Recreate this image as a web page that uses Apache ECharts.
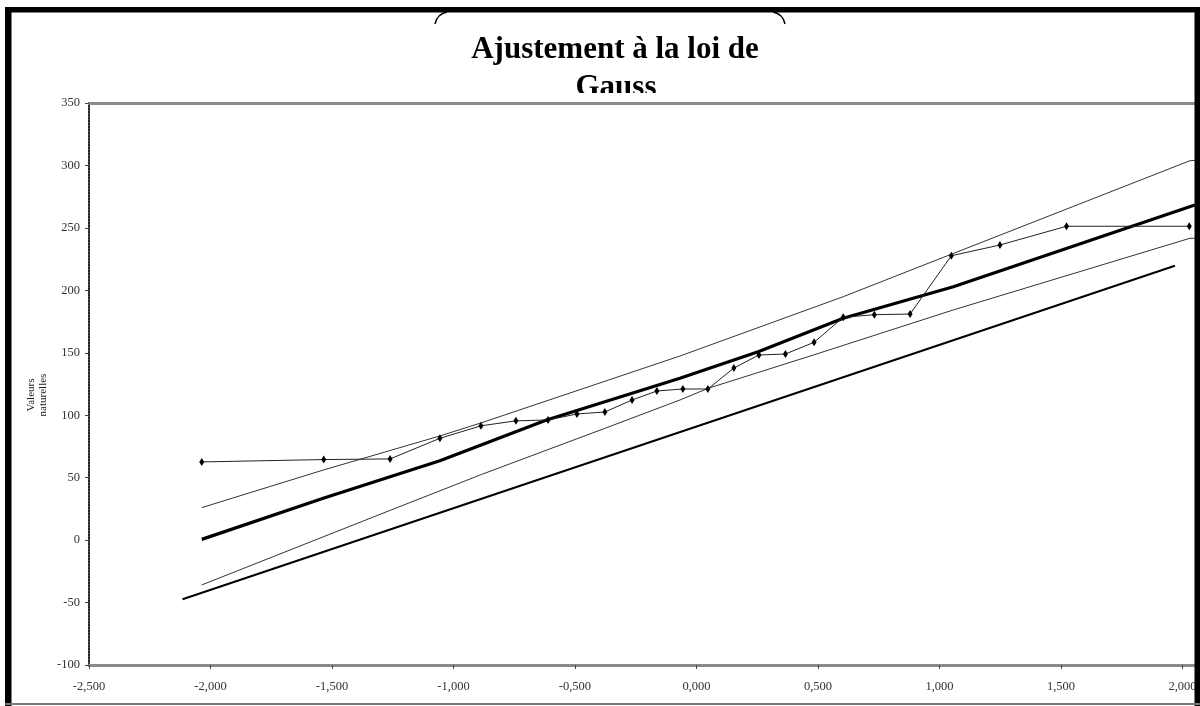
<!DOCTYPE html>
<html>
<head>
<meta charset="utf-8">
<script src="https://cdn.jsdelivr.net/npm/echarts@6/dist/echarts.min.js"></script>
<style>
html,body{margin:0;padding:0;background:#fff;}
#chart{width:1200px;height:706px;}
</style>
</head>
<body>
<div id="chart"></div>
<script>
// ---- data ----
const titleLines = ['Ajustement à la loi de', 'Gauss'];
const yAxisName = ['Valeurs', 'naturelles'];

// observed values (normal quantile, natural value)
const obsX = [-2.036,-1.534,-1.261,-1.056,-0.887,-0.743,-0.611,-0.492,-0.377,-0.265,-0.163,-0.056,0.047,0.154,0.257,0.366,0.484,0.604,0.732,0.879,1.049,1.249,1.523,2.028];
const obsY = [62.6,64.5,65,81.5,91.5,95.5,96.2,101,102.6,112.2,119.4,121,121,137.8,148.2,149,158.4,178.4,180.5,181,227.7,236.3,251.3,251.3];

// fitted Gauss line (thick)
const fitX = [-2.036,-1.536,-1.056,-0.617,-0.068,0.254,0.604,1.057,2.051];
const fitY = [0.6,33.5,63.5,96.2,129.6,150.9,177.6,202.9,268.3];

// upper confidence band
const upperX = [-2.036,-1.536,-1.056,-0.884,-0.068,0.604,1.050,2.031,2.051];
const upperY = [26,56.1,83.4,94,147.4,194.9,229,303.8,304];

// lower confidence band
const lowerX = [-2.036,-1.261,-0.884,-0.377,-0.068,0.049,0.481,1.057,2.031,2.051];
const lowerY = [-35.9,23.8,52.6,89.5,112.2,121.6,148.2,184.3,241.7,241.7];

// straight reference line
const refX = [-2.115, 1.969];
const refY = [-47.4, 219.7];

// axis ticks
const xMin = -2.5, xMax = 2.05, xStep = 0.5;
const yMin = -100, yMax = 350, yStep = 50;

const pairs = (xs, ys) => xs.map((x, i) => [x, ys[i]]);
const fmtX = v => {
  const r = Math.round(v * 1000) / 1000;
  if (Math.abs(r / xStep - Math.round(r / xStep)) > 1e-6) return '';
  return r.toFixed(3).replace('.', ',');
};

const chart = echarts.init(document.getElementById('chart'), null, {renderer: 'canvas'});
const labelFont = {fontFamily: 'Liberation Serif', fontSize: 12.5, color: '#333'};

chart.setOption({
  backgroundColor: '#fff',
  animation: false,
  grid: {left: 89, top: 103, right: 5.4, bottom: 41, containLabel: false},
  xAxis: [{
    type: 'value', min: xMin, max: xMax, interval: xStep,
    axisLine: {show: true, onZero: false, lineStyle: {color: '#8a8a8a', width: 3}},
    axisTick: {show: true, length: 4, lineStyle: {color: '#444', width: 1}},
    axisLabel: Object.assign({margin: 15, formatter: fmtX, showMaxLabel: false}, labelFont),
    splitLine: {show: false}
  }, {
    type: 'value', position: 'top', min: xMin, max: xMax, interval: xStep,
    axisLine: {show: true, onZero: false, lineStyle: {color: '#8a8a8a', width: 3}},
    axisTick: {show: false}, axisLabel: {show: false}, splitLine: {show: false}
  }],
  yAxis: {
    type: 'value', min: yMin, max: yMax, interval: yStep,
    axisLine: {show: true, onZero: false, lineStyle: {color: '#222', width: 2, type: [1.5, 1.5]}},
    axisTick: {show: true, length: 4, lineStyle: {color: '#444', width: 1}},
    axisLabel: Object.assign({margin: 9}, labelFont),
    splitLine: {show: false}
  },
  series: [
    {
      type: 'line', data: pairs(refX, refY), symbol: 'none',
      lineStyle: {color: '#000', width: 2}, z: 2
    },
    {
      type: 'line', data: pairs(lowerX, lowerY), symbol: 'none',
      lineStyle: {color: '#333', width: 1}, z: 2
    },
    {
      type: 'line', data: pairs(upperX, upperY), symbol: 'none',
      lineStyle: {color: '#333', width: 1}, z: 2
    },
    {
      type: 'line', data: pairs(fitX, fitY), symbol: 'none',
      lineStyle: {color: '#000', width: 3.2}, z: 3
    },
    {
      type: 'line', data: pairs(obsX, obsY), symbol: 'diamond', symbolSize: [5, 8],
      itemStyle: {color: '#000'}, lineStyle: {color: '#222', width: 1}, z: 4
    }
  ],
  graphic: [
    // title
    {type: 'text', z: 10, x: 615, y: 34, style: {text: titleLines[0],
      font: 'bold 31px "Liberation Serif"', fill: '#000', align: 'center', verticalAlign: 'top'}},
    {type: 'text', z: 10, x: 616, y: 72, style: {text: titleLines[1],
      font: 'bold 31px "Liberation Serif"', fill: '#000', align: 'center', verticalAlign: 'top'}},
    // mask clipping the second title line
    {type: 'rect', z: 11, shape: {x: 540, y: 93, width: 140, height: 8.5}, style: {fill: '#fff'}},
    // rounded corners of the title box
    {type: 'bezierCurve', z: 12, shape: {x1: 435, y1: 24, cpx1: 437, cpy1: 14, x2: 447, y2: 12},
      style: {fill: null, stroke: '#000', lineWidth: 1.5}},
    {type: 'bezierCurve', z: 12, shape: {x1: 785, y1: 24, cpx1: 783, cpy1: 14, x2: 773, y2: 12},
      style: {fill: null, stroke: '#000', lineWidth: 1.5}},
    // y axis name
    {type: 'text', z: 10, x: 31, y: 395, rotation: Math.PI / 2, style: {text: yAxisName[0],
      font: '11px "Liberation Serif"', fill: '#222', align: 'center', verticalAlign: 'middle'}},
    {type: 'text', z: 10, x: 43, y: 395, rotation: Math.PI / 2, style: {text: yAxisName[1],
      font: '11px "Liberation Serif"', fill: '#222', align: 'center', verticalAlign: 'middle'}},
    // outer frame
    {type: 'rect', z: 20, shape: {x: 5, y: 7, width: 6.5, height: 699}, style: {fill: '#000'}},
    {type: 'rect', z: 20, shape: {x: 5, y: 7, width: 1195, height: 5.5}, style: {fill: '#000'}},
    {type: 'rect', z: 20, shape: {x: 1194.5, y: 7, width: 5.5, height: 699}, style: {fill: '#000'}},
    {type: 'rect', z: 20, shape: {x: 5, y: 703, width: 1195, height: 2}, style: {fill: '#777'}}
  ]
});
</script>
</body>
</html>
